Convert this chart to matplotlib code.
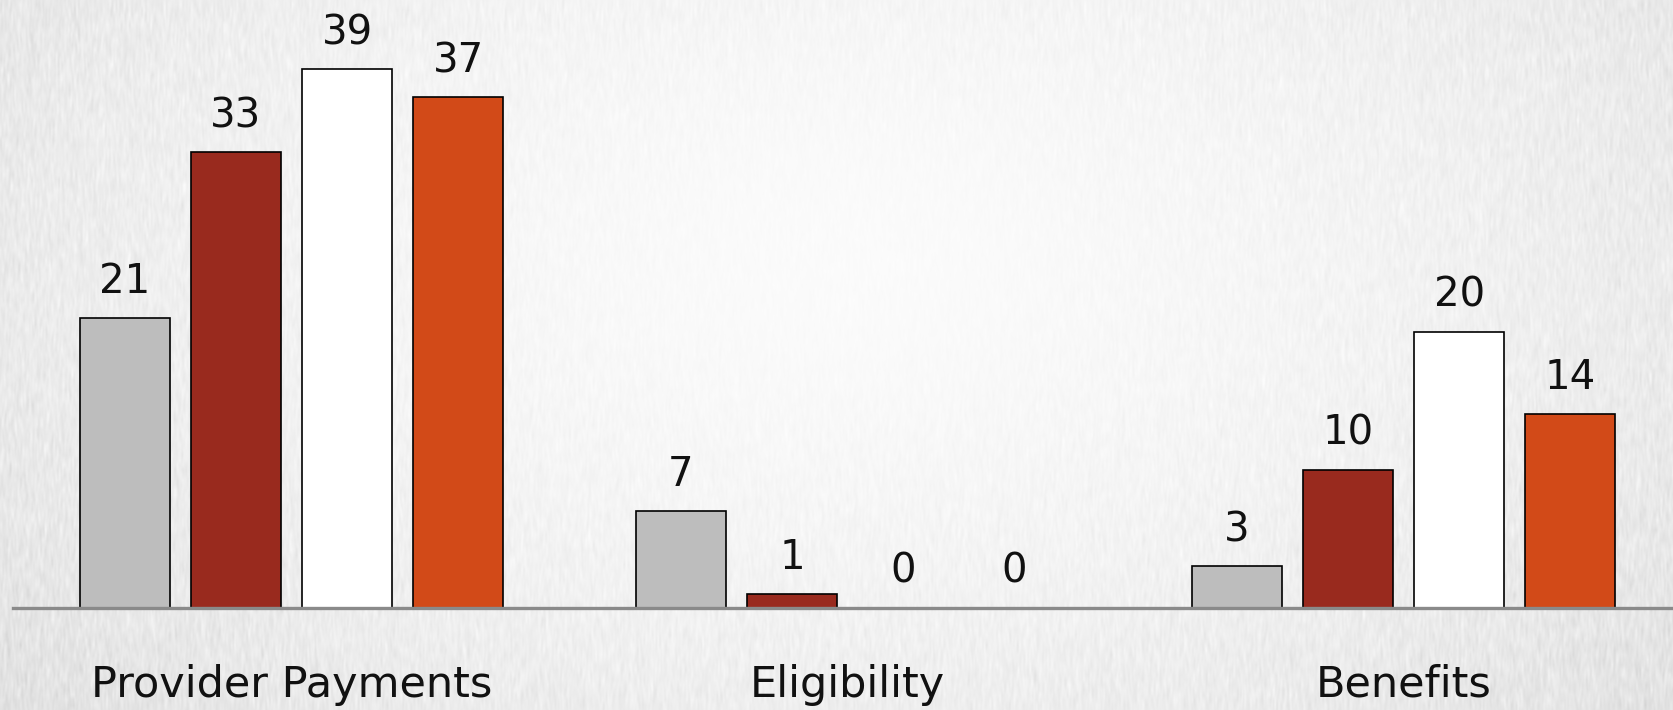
import numpy as np
import matplotlib.pyplot as plt

categories = ["Provider Payments", "Eligibility", "Benefits"]
series_a = [21, 7, 3]     # gray
series_b = [33, 1, 10]    # dark red
series_c = [39, 0, 20]    # white
series_d = [37, 0, 14]    # orange
colors = ["#bdbdbd", "#992a1e", "#ffffff", "#d24a18"]

W, H, DPI = 1674, 710, 100
fig = plt.figure(figsize=(W / DPI, H / DPI), dpi=DPI)

# soft grey backdrop: lighter towards the middle, with fine vertical streaks
bg = fig.add_axes([0, 0, 1, 1])
yy, xx = np.mgrid[0:H, 0:W]
r = np.sqrt(((xx - 850) / 1000.0) ** 2 + ((yy - 260) / 620.0) ** 2)
base = 0.985 - 0.085 * np.clip(r, 0, 1.3) ** 1.6
rng = np.random.default_rng(3)
noise = rng.normal(0, 1, (H // 5 + 2, W))
noise = np.repeat(noise, 5, axis=0)[:H]
k = np.ones(11) / 11
noise = np.apply_along_axis(lambda c: np.convolve(c, k, mode="same"), 0, noise)
kx = np.array([0.25, 0.5, 0.25])
noise = np.apply_along_axis(lambda c: np.convolve(c, kx, mode="same"), 1, noise)
tex = np.clip(base + 0.035 * noise * np.clip(r, 0.15, 1.0), 0, 1)
bg.imshow(np.dstack([tex] * 3), aspect="auto", extent=[0, 1, 0, 1], zorder=0)
bg.axis("off")

# chart area: baseline at y≈607 px, groups spaced ≈556 px apart
ax = fig.add_axes([13.5 / W, (H - 607.5) / H, 1668 / W, 593.4 / H])
ax.patch.set_alpha(0)

x = np.arange(len(categories))
width = 0.162
step = 0.2
all_series = [series_a, series_b, series_c, series_d]
for i, (vals, col) in enumerate(zip(all_series, colors)):
    pos = x + (i - 1.5) * step
    ax.bar(pos, vals, width, color=col, edgecolor="black", linewidth=1.2, zorder=2)
    for p, v in zip(pos, vals):
        ax.text(p, v + 2.6, str(v), ha="center", va="center",
                fontsize=29, family="DejaVu Sans", color="#111111")

ax.set_xlim(-0.5, 2.5)
ax.set_ylim(0, 43)
ax.axhline(0, color="#8a8a8a", linewidth=2.4, zorder=3, clip_on=False)
ax.set_yticks([])
ax.set_xticks([])
for s in ax.spines.values():
    s.set_visible(False)

for xi, cat in zip(x, categories):
    ax.text(xi, -5.6, cat, ha="center", va="center", fontsize=31,
            family="DejaVu Sans", color="#111111", clip_on=False)

fig.savefig("out.png", dpi=DPI)
